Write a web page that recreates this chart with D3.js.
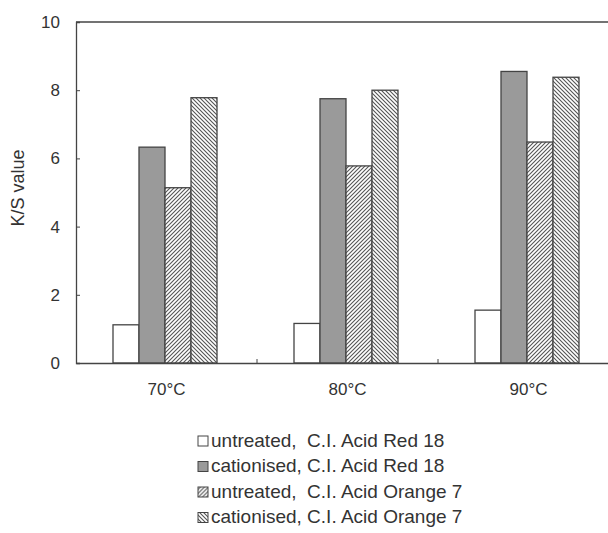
<!DOCTYPE html>
<html>
<head>
<meta charset="utf-8">
<script src="https://cdn.jsdelivr.net/npm/d3@7"></script>
<style>
  body { margin: 0; background: #fff; }
  svg { display: block; font-family: Arial, "Liberation Sans", sans-serif; }
</style>
</head>
<body>
<svg id="chart" width="608" height="533"></svg>
<script>
(function () {
  'use strict';

  // data
  const categories = ['70°C', '80°C', '90°C'];
  const series = [
    'untreated,  C.I. Acid Red 18',
    'cationised, C.I. Acid Red 18',
    'untreated,  C.I. Acid Orange 7',
    'cationised, C.I. Acid Orange 7'
  ];
  const untreatedRed = [1.12, 1.16, 1.55];
  const cationisedRed = [6.33, 7.75, 8.55];
  const untreatedOrange = [5.14, 5.78, 6.48];
  const cationisedOrange = [7.78, 8.0, 8.38];
  const yTicks = [0, 2, 4, 6, 8, 10];

  const values = [untreatedRed, cationisedRed, untreatedOrange, cationisedOrange];

  const FONT = 'Arial, "Liberation Sans", sans-serif';
  const svg = d3.select('#chart');
  const margin = { left: 76, top: 22, right: -11, bottom: 170 };
  const W = 608, H = 533;
  const innerW = W - margin.left - margin.right;
  const innerH = H - margin.top - margin.bottom;

  const defs = svg.append('defs');
  function hatch(id, dir) {
    const p = defs.append('pattern')
      .attr('id', id)
      .attr('patternUnits', 'userSpaceOnUse')
      .attr('width', 4).attr('height', 4);
    p.append('rect').attr('width', 4).attr('height', 4).attr('fill', '#fff');
    const d = dir > 0
      ? 'M-1,1 l2,-2 M0,4 l4,-4 M3,5 l2,-2'
      : 'M-1,3 l2,2 M0,0 l4,4 M3,-1 l2,2';
    p.append('path').attr('d', d).attr('stroke', '#555').attr('stroke-width', 1.1);
  }
  hatch('hatchFwd', 1);
  hatch('hatchBack', -1);

  const fills = ['#fff', '#9a9a9a', 'url(#hatchFwd)', 'url(#hatchBack)'];

  const g = svg.append('g').attr('transform', `translate(${margin.left},${margin.top})`);

  const x0 = d3.scaleBand().domain(categories).range([0, innerW]).padding(0);
  const x1 = d3.scaleBand().domain(d3.range(series.length))
    .range([37, x0.bandwidth() - 40]).padding(0);
  const y = d3.scaleLinear().domain([0, 10]).range([innerH, 0]);

  // frame top line
  g.append('line')
    .attr('x1', 0).attr('x2', innerW).attr('y1', 0).attr('y2', 0)
    .attr('stroke', '#444').attr('stroke-width', 1.3);

  // bars
  const groups = g.selectAll('g.cat')
    .data(categories)
    .enter().append('g')
    .attr('class', 'cat')
    .attr('transform', d => `translate(${x0(d)},0)`);

  groups.selectAll('rect')
    .data((d, i) => values.map((v, s) => ({ s, v: v[i] })))
    .enter().append('rect')
    .attr('x', d => x1(d.s))
    .attr('y', d => y(d.v))
    .attr('width', x1.bandwidth())
    .attr('height', d => innerH - y(d.v))
    .attr('fill', d => fills[d.s])
    .attr('stroke', '#444')
    .attr('stroke-width', 1.3);

  // y axis
  const yAxis = g.append('g')
    .call(d3.axisLeft(y).tickValues(yTicks).tickSize(-4).tickPadding(16));
  yAxis.select('.domain').attr('stroke', '#444').attr('stroke-width', 1.3);
  yAxis.selectAll('.tick line').attr('stroke', '#444');
  yAxis.selectAll('.tick text').attr('font-size', 17).attr('fill', '#333')
    .attr('font-family', FONT);
  yAxis.select('.tick:first-of-type line').remove();

  // x axis
  const xAxis = g.append('g')
    .attr('transform', `translate(0,${innerH})`)
    .call(d3.axisBottom(x0).tickSize(0).tickPadding(20));
  xAxis.select('.domain').attr('stroke', '#444').attr('stroke-width', 1.3);
  xAxis.selectAll('.tick text').attr('font-size', 17).attr('fill', '#333')
    .attr('font-family', FONT);

  // category boundary ticks
  g.selectAll('line.sep')
    .data(categories.slice(1))
    .enter().append('line')
    .attr('class', 'sep')
    .attr('x1', d => x0(d)).attr('x2', d => x0(d))
    .attr('y1', innerH).attr('y2', innerH - 4)
    .attr('stroke', '#444');

  // y label
  svg.append('text')
    .attr('transform', 'translate(24,188) rotate(-90)')
    .attr('text-anchor', 'middle')
    .attr('font-size', 18)
    .attr('fill', '#333')
    .text('K/S value');

  // legend
  const legend = svg.append('g').attr('transform', 'translate(198,446.5)');
  const item = legend.selectAll('g')
    .data(series)
    .enter().append('g')
    .attr('transform', (d, i) => `translate(0,${i * 25.5})`);
  item.append('rect')
    .attr('x', 0).attr('y', -10.5).attr('width', 10).attr('height', 10)
    .attr('fill', (d, i) => fills[i])
    .attr('stroke', '#444').attr('stroke-width', 1);
  item.append('text')
    .attr('x', 13).attr('y', 0)
    .attr('font-size', 19)
    .attr('fill', '#333')
    .style('white-space', 'pre')
    .text(d => d);
})();
</script>
</body>
</html>
